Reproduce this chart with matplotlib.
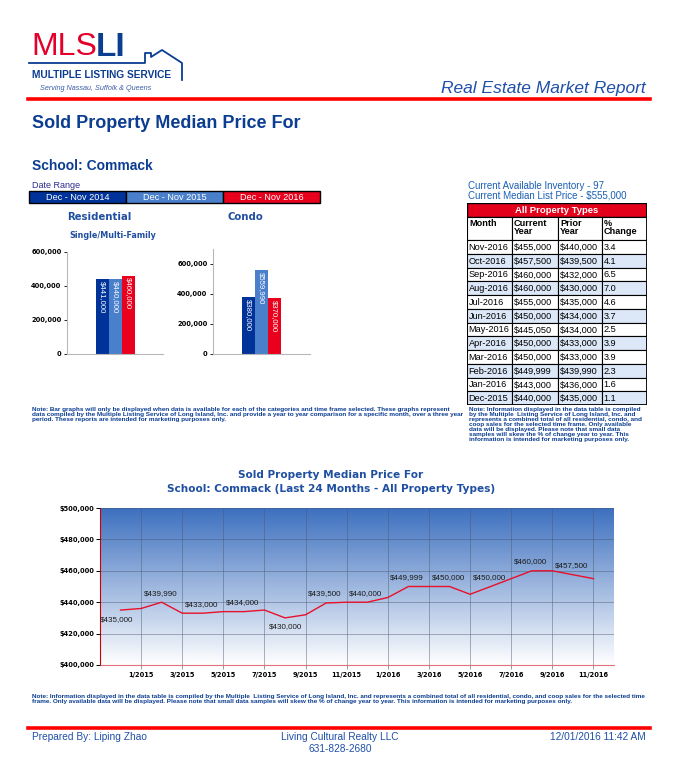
import matplotlib
matplotlib.use('Agg')
import matplotlib.pyplot as plt
from matplotlib.patches import Rectangle
from matplotlib.lines import Line2D
from matplotlib.colors import LinearSegmentedColormap
import numpy as np

W, H = 683, 774

# ---- data ----
bar_periods = ['Dec - Nov 2014', 'Dec - Nov 2015', 'Dec - Nov 2016']
bar_colors = ['#003399', '#4a7fcb', '#e8001c']
residential = [441000, 440000, 460000]
condo = [380000, 559990, 370000]

table_months = ['Nov-2016', 'Oct-2016', 'Sep-2016', 'Aug-2016', 'Jul-2016', 'Jun-2016',
                'May-2016', 'Apr-2016', 'Mar-2016', 'Feb-2016', 'Jan-2016', 'Dec-2015']
table_current = ['$455,000', '$457,500', '$460,000', '$460,000', '$455,000', '$450,000',
                 '$445,050', '$450,000', '$450,000', '$449,999', '$443,000', '$440,000']
table_prior = ['$440,000', '$439,500', '$432,000', '$430,000', '$435,000', '$434,000',
               '$434,000', '$433,000', '$433,000', '$439,990', '$436,000', '$435,000']
table_change = ['3.4', '4.1', '6.5', '7.0', '4.6', '3.7', '2.5', '3.9', '3.9', '2.3', '1.6', '1.1']

line_months = ['12/2014', '1/2015', '2/2015', '3/2015', '4/2015', '5/2015', '6/2015', '7/2015',
               '8/2015', '9/2015', '10/2015', '11/2015', '12/2015', '1/2016', '2/2016', '3/2016',
               '4/2016', '5/2016', '6/2016', '7/2016', '8/2016', '9/2016', '10/2016', '11/2016']
line_values = [435000, 436000, 439990, 433000, 433000, 434000, 434000, 435000,
               430000, 432000, 439500, 440000, 440000, 443000, 449999, 450000,
               450000, 445050, 450000, 455000, 460000, 460000, 457500, 455000]

BLUE = '#0b3d91'
ARIAL = 'Liberation Sans'
TAHOMA = 'DejaVu Sans'

fig = plt.figure(figsize=(W / 100, H / 100), dpi=100)
fig.patch.set_facecolor('white')


def fx(x):
    return x / W


def fy(y):
    return 1 - y / H


def axes_px(l, t, r, b):
    return fig.add_axes([l / W, 1 - b / H, (r - l) / W, (b - t) / H])


def txt(x, y, s, **kw):
    kw.setdefault('family', ARIAL)
    kw.setdefault('color', BLUE)
    kw.setdefault('va', 'center')
    return fig.text(fx(x), fy(y), s, **kw)


def hline(x0, x1, y, **kw):
    fig.add_artist(Line2D([fx(x0), fx(x1)], [fy(y), fy(y)], **kw))


# ---- header / logo ----
txt(31, 47, 'MLS', size=23, color='#e3002b')
txt(96, 47, 'LI', size=24, color='#0b3d91', weight='bold')
house_x = [29, 145, 145, 151, 151, 162, 182, 182]
house_y = [63, 63, 53, 53, 57, 50, 63, 80]
fig.add_artist(Line2D([fx(v) for v in house_x], [fy(v) for v in house_y],
                      color='#0b3d91', lw=1.3))
txt(32, 75, 'MULTIPLE LISTING SERVICE', size=7.3, weight='bold')
txt(40, 89, 'Serving Nassau, Suffolk & Queens', size=5.2, style='italic', color='#3a5da8')
txt(646, 88, 'Real Estate Market Report', size=12.5, style='italic', color='#1f4fa8', ha='right')
hline(28, 650, 99, color='#ff0000', lw=2.6)

txt(32, 123, 'Sold Property Median Price For', size=13, weight='bold')
txt(32, 166, 'School: Commack', size=10, weight='bold')
txt(32, 185, 'Date Range', size=6.5, color='#2b2b8f')

# date range legend boxes
box_w = (320 - 29) / 3
for i, (lab, col) in enumerate(zip(bar_periods, bar_colors)):
    x0 = 29 + i * box_w
    fig.add_artist(Rectangle((fx(x0), fy(203)), box_w / W, 12 / H, transform=fig.transFigure,
                             facecolor=col, edgecolor='black', lw=1))
    txt(x0 + box_w / 2, 197.5, lab, size=6.6, color='white', ha='center')

txt(99, 217, 'Residential', size=7.3, weight='bold', family=TAHOMA, color='#1f4fa0', ha='center')
txt(245, 217, 'Condo', size=7.3, weight='bold', family=TAHOMA, color='#1f4fa0', ha='center')
txt(113, 236, 'Single/Multi-Family', size=5.8, weight='bold', family=TAHOMA, color='#1f4fa0',
    ha='center')


# ---- bar charts ----
def bar_panel(ax, vals, ymax):
    pos = [-1, 0, 1]
    ax.bar(pos, vals, width=1, color=bar_colors, edgecolor='none')
    for p, v, c in zip(pos, vals, bar_colors):
        ax.text(p, v - ymax * 0.015, '${:,.0f}'.format(v), rotation=270, ha='center', va='top',
                color='white', size=5.6, family=ARIAL)
    ax.set_xlim(-3.73, 3.7)
    ax.set_ylim(0, ymax)
    ax.set_yticks([0, 200000, 400000, 600000])
    ax.set_yticklabels(['0', '200,000', '400,000', '600,000'])
    ax.set_xticks([])
    for s in ['top', 'right']:
        ax.spines[s].set_visible(False)
    for s in ['left', 'bottom']:
        ax.spines[s].set_color('#b8b8b8')
        ax.spines[s].set_linewidth(0.8)
    ax.tick_params(axis='y', length=2.5, width=0.6, color='black', pad=1.5,
                   labelsize=4.8)
    for lab in ax.get_yticklabels():
        lab.set_fontweight('bold')
        lab.set_family(TAHOMA)
    ax.patch.set_alpha(0)


ax_r = axes_px(67, 252, 163, 354)
bar_panel(ax_r, residential, 600000)
ax_c = axes_px(213, 249, 310, 354)
bar_panel(ax_c, condo, 700000)

# ---- table ----
txt(468, 186, 'Current Available Inventory - 97', size=7, color='#1a5fb4')
txt(468, 196, 'Current Median List Price - $555,000', size=7, color='#1a5fb4')

ax_t = axes_px(467, 203, 647, 405)
ax_t.set_xlim(467, 647)
ax_t.set_ylim(405, 203)
ax_t.axis('off')
cols = [467, 512, 558, 602, 647]
ax_t.add_patch(Rectangle((467, 203), 180, 14, facecolor='#e3001b', edgecolor='black', lw=1))
ax_t.text(557, 210.5, 'All Property Types', ha='center', va='center', color='white',
          size=6.8, weight='bold', family=ARIAL)
heads = ['Month', 'Current\nYear', 'Prior\nYear', '%\nChange']
for i, hd in enumerate(heads):
    ax_t.add_patch(Rectangle((cols[i], 217), cols[i + 1] - cols[i], 23, facecolor='white',
                             edgecolor='black', lw=0.8))
    ax_t.text(cols[i] + 2, 219, hd, ha='left', va='top', size=6.6, weight='bold',
              family=ARIAL, color='black', linespacing=0.9)
row_h = (405 - 240) / len(table_months)
for r in range(len(table_months)):
    y0 = 240 + r * row_h
    row = [table_months[r], table_current[r], table_prior[r], table_change[r]]
    fc = 'white' if r % 2 == 0 else '#dce8f8'
    for i, cell in enumerate(row):
        ax_t.add_patch(Rectangle((cols[i], y0), cols[i + 1] - cols[i], row_h, facecolor=fc,
                                 edgecolor='black', lw=0.8))
        ax_t.text(cols[i] + 1.5, y0 + row_h / 2 + 0.5, cell, ha='left', va='center',
                  size=6.6, family=ARIAL, color='black')
ax_t.add_patch(Rectangle((467, 203), 180, 202, facecolor='none', edgecolor='black', lw=1.3))

# ---- notes ----
note_left = ('Note: Bar graphs will only be displayed when data is available for each of the categories and time frame selected. These graphs represent\n'
             'data compiled by the Multiple Listing Service of Long Island, Inc. and provide a year to year comparison for a specific month, over a three year\n'
             'period. These reports are intended for marketing purposes only.')
note_right = ('Note: Information displayed in the data table is compiled\n'
              'by the Multiple  Listing Service of Long Island, Inc. and\n'
              'represents a combined total of all residential, condo, and\n'
              'coop sales for the selected time frame. Only available\n'
              'data will be displayed. Please note that small data\n'
              'samples will skew the % of change year to year. This\n'
              'information is intended for marketing purposes only.')
txt(32, 407, note_left, size=4.55, weight='bold', va='top', linespacing=1.0)
txt(469, 407, note_right, size=4.55, weight='bold', va='top', linespacing=1.0)

# ---- line chart ----
txt(331, 475, 'Sold Property Median Price For', size=7.6, weight='bold', family=TAHOMA,
    color='#1f4fa0', ha='center')
txt(331, 489, 'School: Commack (Last 24 Months - All Property Types)', size=7.6, weight='bold',
    family=TAHOMA, color='#1f4fa0', ha='center')

ax = axes_px(100, 508, 614, 665)
xs = np.arange(len(line_values))
ax.set_xlim(-1, 24)
ax.set_ylim(400000, 500000)
grad = LinearSegmentedColormap.from_list('bg', ['#ffffff', '#3d70bf'])
ax.imshow(np.linspace(0, 1, 256)[:, None], extent=[-1, 24, 400000, 500000], origin='lower',
          aspect='auto', cmap=grad, zorder=0)
ax.plot(xs, line_values, color='#e8102a', lw=1, zorder=3)

tick_idx = list(range(1, 24, 2))
ax.set_xticks(tick_idx)
ax.set_xticklabels([line_months[i] for i in tick_idx])
ax.set_yticks(np.arange(400000, 500001, 20000))
ax.set_yticklabels(['${:,.0f}'.format(v) for v in np.arange(400000, 500001, 20000)])
ax.grid(True, color='#4a5670', alpha=0.45, lw=0.7, zorder=1)
ax.set_axisbelow(False)
for s in ['top', 'right']:
    ax.spines[s].set_visible(False)
ax.spines['left'].set_color('#cc0000')
ax.spines['bottom'].set_color('#e07080')
ax.tick_params(axis='y', length=3, width=0.7, color='black', labelsize=4.8, pad=1)
ax.tick_params(axis='x', length=3, width=0.7, color='#999999', labelsize=4.8, pad=2)
for lab in ax.get_yticklabels() + ax.get_xticklabels():
    lab.set_fontweight('bold')
    lab.set_family(TAHOMA)

for i in range(0, 24, 2):
    if i in (0, 8):
        off, va = (-3 if i == 0 else 0, -4), 'top'
    else:
        off, va = (-1, 4), 'bottom'
    ax.annotate('${:,.0f}'.format(line_values[i]), (xs[i], line_values[i]), xytext=off,
                textcoords='offset points', ha='center', va=va, size=5.8, family=ARIAL,
                color='#1a1a1a', zorder=4)

# ---- footer ----
note_bottom = ('Note: Information displayed in the data table is compiled by the Multiple  Listing Service of Long Island, Inc. and represents a combined total of all residential, condo, and coop sales for the selected time\n'
               'frame. Only available data will be displayed. Please note that small data samples will skew the % of change year to year. This information is intended for marketing purposes only.')
txt(32, 694, note_bottom, size=4.6, weight='bold', va='top', linespacing=1.0)
hline(28, 650, 728, color='#ff0000', lw=2.6)
txt(32, 737, 'Prepared By: Liping Zhao', size=7.3, color='#1f4fa8')
txt(340, 737, 'Living Cultural Realty LLC', size=7.3, color='#1f4fa8', ha='center')
txt(340, 749, '631-828-2680', size=7.3, color='#1f4fa8', ha='center')
txt(646, 737, '12/01/2016 11:42 AM', size=7.3, color='#1f4fa8', ha='right')

fig.savefig('out.png', dpi=100)
